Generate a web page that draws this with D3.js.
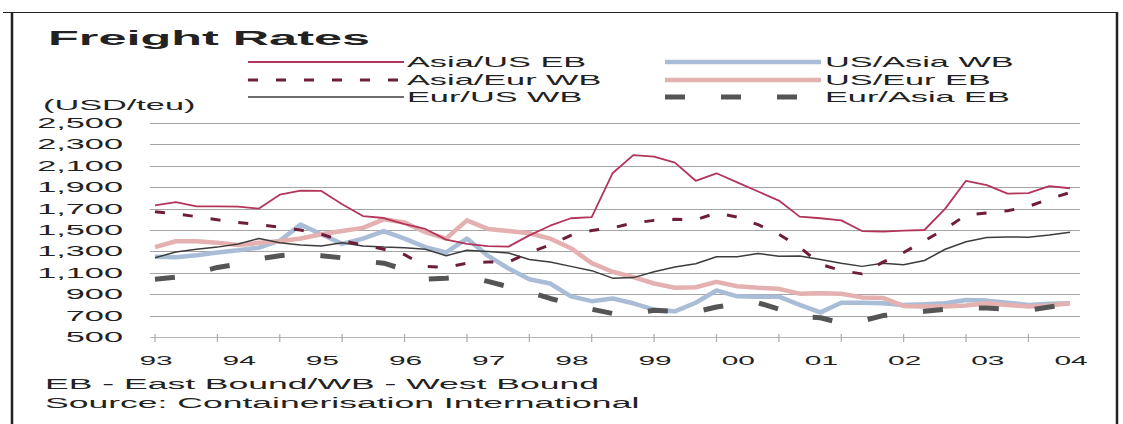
<!DOCTYPE html>
<html>
<head>
<meta charset="utf-8">
<script src="https://cdn.jsdelivr.net/npm/d3@7"></script>
<style>
  html, body { margin: 0; padding: 0; background: #fff; }
  svg { display: block; }
  text { font-family: "Liberation Sans", Arial, sans-serif; fill: #222; }
</style>
</head>
<body>
<svg id="chart" width="1123" height="424"></svg>
<script>
// Quarterly container freight rates, 1993 Q1 to 2004 Q1 (USD per TEU)
const yearLabels = ["93", "94", "95", "96", "97", "98", "99", "00", "01", "02", "03", "04"];
const yTicks = [500, 700, 900, 1100, 1300, 1500, 1700, 1900, 2100, 2300, 2500];

const asiaUsEB = [1730, 1760, 1720, 1720, 1718, 1700, 1830, 1868, 1865, 1740, 1630, 1612, 1555,
  1510, 1410, 1370, 1350, 1345, 1450, 1540, 1610, 1620, 2030, 2200, 2185, 2130, 1960, 2030, 1945,
  1860, 1775, 1625, 1610, 1590, 1490, 1485, 1495, 1500, 1700, 1960, 1920, 1840, 1845, 1910, 1890];
const asiaEurWB = [1670, 1650, 1625, 1595, 1570, 1550, 1525, 1500, 1460, 1400, 1360, 1320, 1270,
  1160, 1150, 1190, 1200, 1200, 1290, 1360, 1450, 1495, 1520, 1565, 1590, 1600, 1595, 1660, 1620,
  1550, 1460, 1340, 1180, 1120, 1090, 1200, 1290, 1400, 1510, 1640, 1660, 1680, 1720, 1790, 1850];
const eurUsWB = [1240, 1295, 1320, 1340, 1370, 1420, 1380, 1360, 1350, 1380, 1350, 1340, 1335,
  1320, 1260, 1310, 1300, 1285, 1225, 1200, 1160, 1120, 1050, 1055, 1110, 1155, 1185, 1250, 1250,
  1280, 1255, 1257, 1225, 1190, 1160, 1190, 1175, 1215, 1320, 1390, 1430, 1435, 1432, 1453, 1480];
const usAsiaWB = [1250, 1245, 1265, 1290, 1310, 1335, 1400, 1550, 1460, 1370, 1420, 1490, 1420,
  1340, 1290, 1420, 1260, 1140, 1040, 1000, 880, 835, 860, 815, 755, 740, 820, 935, 880,
  877, 877, 800, 730, 820, 820, 815, 800, 805, 815, 845, 840, 820, 800, 810, 815];
const usEurEB = [1340, 1395, 1395, 1380, 1360, 1380, 1395, 1420, 1460, 1490, 1520, 1600, 1570,
  1480, 1420, 1590, 1510, 1490, 1470, 1420, 1330, 1190, 1110, 1060, 1000, 960, 965, 1015, 975,
  960, 950, 905, 910, 905, 870, 865, 790, 785, 785, 795, 815, 800, 785, 795, 815];
const eurAsiaEB = [1040, 1060, 1100, 1150, 1180, 1230, 1260, 1280, 1260, 1240, 1210, 1190, 1130,
  1040, 1050, 1065, 1020, 970, 920, 860, 810, 760, 720, 720, 750, 740, 735, 780, 810,
  820, 760, 690, 680, 630, 650, 700, 720, 740, 760, 770, 770, 760, 750, 780, 810];

const series = [
  { name: "US/Asia WB",  values: usAsiaWB,  color: "#a9bdd6", width: 4.5, dash: null },
  { name: "US/Eur EB",   values: usEurEB,   color: "#e4b0b0", width: 4.5, dash: null },
  { name: "Eur/US WB",   values: eurUsWB,   color: "#3c3c3c", width: 1.5, dash: null },
  { name: "Asia/US EB",  values: asiaUsEB,  color: "#b3355a", width: 1.8, dash: null },
  { name: "Asia/Eur WB", values: asiaEurWB, color: "#6e1e3c", width: 3,   dash: "10,18" },
  { name: "Eur/Asia EB", values: eurAsiaEB, color: "#555555", width: 5,   dash: "20,36" }
];

// Legend arranged in two columns, three rows
const legendItems = [
  { s: "Asia/US EB", col: 0, row: 0 },
  { s: "Asia/Eur WB", col: 0, row: 1 },
  { s: "Eur/US WB", col: 0, row: 2 },
  { s: "US/Asia WB", col: 1, row: 0 },
  { s: "US/Eur EB", col: 1, row: 1 },
  { s: "Eur/Asia EB", col: 1, row: 2 }
];

const SX = 2.45; // horizontal glyph stretch used for all labels
const svg = d3.select("#chart");

function label(g, x, y, str, opts = {}) {
  return g.append("text")
    .attr("transform", `translate(${x},${y}) scale(${opts.sx || SX},1)`)
    .attr("text-anchor", opts.anchor || "start")
    .style("font-size", (opts.size || 14) + "px")
    .style("font-weight", opts.weight || "normal")
    .text(str);
}

const n = asiaUsEB.length;
const x = d3.scaleLinear().domain([0, n - 1]).range([155, 1070]);
const y = d3.scaleLinear().domain([500, 2500]).range([337, 123]);

// Frame
svg.append("line").attr("x1", 3).attr("x2", 1118).attr("y1", 12.5).attr("y2", 12.5)
  .attr("stroke", "#222").attr("stroke-width", 1.2);
svg.append("line").attr("x1", 12).attr("x2", 12).attr("y1", 12).attr("y2", 424)
  .attr("stroke", "#222").attr("stroke-width", 2.5);
svg.append("line").attr("x1", 1117).attr("x2", 1117).attr("y1", 12).attr("y2", 424)
  .attr("stroke", "#222").attr("stroke-width", 2.5);

// Title and unit
label(svg, 48, 45, "Freight Rates", { size: 21, weight: "bold", sx: 2.4 });
label(svg, 43, 110, "(USD/teu)", { size: 14 });

// Gridlines and y-axis labels
const gx0 = 150, gx1 = 1080;
svg.append("g").selectAll("line").data(yTicks).join("line")
  .attr("x1", gx0).attr("x2", gx1)
  .attr("y1", d => Math.round(y(d)) + 0.5).attr("y2", d => Math.round(y(d)) + 0.5)
  .attr("stroke", d => d === 500 ? "#b8b8b8" : "#a4a4a4").attr("stroke-width", 1);
const yl = svg.append("g");
yTicks.forEach(t => label(yl, 123, y(t) + 5, d3.format(",")(t), { size: 14, anchor: "end", sx: 2.45 }));

// X-axis tick marks every third quarter, labels every fourth
const tickIdx = d3.range(0, n, 3);
svg.append("g").selectAll("line").data(tickIdx).join("line")
  .attr("x1", d => x(d)).attr("x2", d => x(d))
  .attr("y1", 334).attr("y2", 342)
  .attr("stroke", "#aaa").attr("stroke-width", 1.2);
const xl = svg.append("g");
yearLabels.forEach((lab, k) => label(xl, x(k * 4) + 1, 365, lab, { size: 13, anchor: "middle", sx: 2.3 }));

// Series lines
const line = d3.line().x((d, i) => x(i)).y(d => y(d)).curve(d3.curveLinear);
svg.append("g").selectAll("path").data(series).join("path")
  .attr("d", d => line(d.values))
  .attr("fill", "none")
  .attr("stroke", d => d.color)
  .attr("stroke-width", d => d.width)
  .attr("stroke-dasharray", d => d.dash)
  .attr("stroke-linejoin", "round");

// Legend
const lg = svg.append("g");
const colX = [{ x1: 248, x2: 404, tx: 407 }, { x1: 665, x2: 821, tx: 825 }];
const rowY = [62, 80, 97];
legendItems.forEach(it => {
  const s = series.find(d => d.name === it.s);
  const c = colX[it.col], ry = rowY[it.row];
  lg.append("line").attr("x1", c.x1).attr("x2", c.x2).attr("y1", ry).attr("y2", ry)
    .attr("stroke", s.color).attr("stroke-width", s.width).attr("stroke-dasharray", s.dash);
  label(lg, c.tx, ry + 5, s.name, { size: 14 });
});

// Notes
label(svg, 45, 389, "EB - East Bound/WB - West Bound", { size: 14.5 });
label(svg, 45, 408, "Source: Containerisation International", { size: 14.5 });
</script>
</body>
</html>
